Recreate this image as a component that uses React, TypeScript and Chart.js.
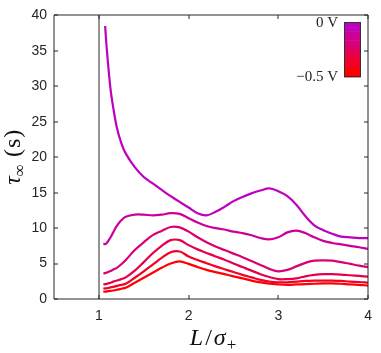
import React, { useEffect, useRef } from "react";
import { Chart, registerables } from "chart.js";

Chart.register(...registerables);

const lengthRatio = [1.05, 1.07, 1.08, 1.1, 1.13, 1.16, 1.2, 1.25, 1.3, 1.4, 1.5, 1.6, 1.7, 1.8, 1.9, 2.0, 2.1, 2.2, 2.3, 2.4, 2.5, 2.6, 2.7, 2.8, 2.9, 3.0, 3.1, 3.2, 3.3, 3.4, 3.5, 3.6, 3.7, 3.8, 3.9, 4.0];
const tau0V = [null, 38.5, 36.6, 33.5, 29.6, 27.0, 24.2, 22.0, 20.5, 18.6, 17.2, 16.3, 15.4, 14.5, 13.7, 12.9, 12.1, 11.8, 12.3, 13.0, 13.8, 14.4, 14.9, 15.3, 15.6, 15.2, 14.5, 13.3, 11.7, 10.4, 9.7, 9.2, 8.8, 8.7, 8.6, 8.6];
const tauM01 = [7.8, 7.75, 7.8, 8.1, 8.7, 9.4, 10.3, 11.1, 11.6, 11.9, 11.9, 11.8, 11.9, 12.1, 12.0, 11.4, 10.8, 10.3, 10.0, 9.8, 9.5, 9.3, 9.0, 8.6, 8.4, 8.7, 9.4, 9.65, 9.3, 8.7, 8.2, 7.9, 7.7, 7.5, 7.3, 7.05];
const tauM02 = [3.6, 3.65, 3.7, 3.8, 3.95, 4.15, 4.4, 4.9, 5.5, 6.9, 8.0, 9.0, 9.6, 10.15, 10.1, 9.5, 8.7, 8.0, 7.4, 6.9, 6.4, 5.9, 5.35, 4.8, 4.25, 3.9, 4.1, 4.6, 5.1, 5.4, 5.45, 5.4, 5.2, 4.95, 4.7, 4.5];
const tauM03 = [2.05, 2.1, 2.1, 2.2, 2.3, 2.45, 2.6, 2.8, 3.05, 4.0, 5.2, 6.45, 7.5, 8.3, 8.3, 7.6, 7.0, 6.5, 6.0, 5.55, 5.0, 4.5, 4.0, 3.5, 3.1, 2.8, 2.8, 2.9, 3.2, 3.4, 3.5, 3.5, 3.45, 3.35, 3.25, 3.15];
const tauM04 = [1.45, 1.5, 1.5, 1.55, 1.65, 1.7, 1.85, 2.0, 2.15, 3.0, 3.9, 4.85, 5.8, 6.6, 6.7, 6.0, 5.5, 5.05, 4.6, 4.2, 3.8, 3.4, 3.05, 2.7, 2.45, 2.35, 2.35, 2.45, 2.55, 2.6, 2.6, 2.6, 2.55, 2.45, 2.4, 2.3];
const tauM05 = [1.0, 1.05, 1.05, 1.1, 1.15, 1.2, 1.3, 1.45, 1.6, 2.3, 3.0, 3.7, 4.4, 5.0, 5.3, 4.95, 4.5, 4.1, 3.8, 3.5, 3.2, 2.9, 2.6, 2.35, 2.15, 2.05, 2.0, 2.05, 2.1, 2.15, 2.2, 2.2, 2.15, 2.05, 2.0, 1.9];

const seriesValues = [tau0V, tauM01, tauM02, tauM03, tauM04, tauM05];
const seriesVoltages = ["0 V", "−0.1 V", "−0.2 V", "−0.3 V", "−0.4 V", "−0.5 V"];
const seriesColors = ["#bf00bf", "#cc0099", "#d90073", "#e6004c", "#f20026", "#ff0000"];
const xTicks = [1, 2, 3, 4];
const yTicks = [0, 5, 10, 15, 20, 25, 30, 35, 40];
const colorbarLabels = ["0 V", "−0.5 V"];
const wallPosition = 1;

const AXIS_COLOR = "#262626";

const decorPlugin = {
  id: "decor",
  beforeDatasetsDraw(chart: any) {
    const { ctx, chartArea: a, scales } = chart;
    const xs = scales.x;
    ctx.save();
    ctx.strokeStyle = AXIS_COLOR;
    ctx.lineWidth = 1;
    const wx = Math.round(xs.getPixelForValue(wallPosition));
    ctx.beginPath();
    ctx.moveTo(wx, a.top);
    ctx.lineTo(wx, a.bottom);
    ctx.stroke();
    ctx.restore();
  },
  afterDraw(chart: any) {
    const { ctx, chartArea: a, scales } = chart;
    const xs = scales.x;
    const ys = scales.y;
    ctx.save();
    ctx.strokeStyle = AXIS_COLOR;
    ctx.lineWidth = 1;
    const L = Math.round(a.left), R = Math.round(a.right), T = Math.round(a.top), B = Math.round(a.bottom);
    ctx.beginPath();
    ctx.moveTo(L, T); ctx.lineTo(R, T); ctx.lineTo(R, B); ctx.lineTo(L, B); ctx.closePath();
    ctx.stroke();
    const tl = 4;
    ctx.beginPath();
    xTicks.forEach((v) => {
      const px = Math.round(xs.getPixelForValue(v));
      ctx.moveTo(px, B); ctx.lineTo(px, B - tl);
      ctx.moveTo(px, T); ctx.lineTo(px, T + tl);
    });
    yTicks.forEach((v) => {
      const py = Math.round(ys.getPixelForValue(v));
      ctx.moveTo(L, py); ctx.lineTo(L + tl, py);
      ctx.moveTo(R, py); ctx.lineTo(R - tl, py);
    });
    ctx.stroke();

    // colorbar
    const cbL = 344, cbR = 361, cbT = 22, cbB = 77;
    const n = seriesColors.length;
    const h = (cbB - cbT) / n;
    seriesColors.forEach((c, i) => {
      ctx.fillStyle = c;
      ctx.fillRect(cbL, cbT + i * h, cbR - cbL, h + 0.5);
    });
    ctx.strokeStyle = "#333";
    ctx.strokeRect(cbL + 0.5, cbT + 0.5, cbR - cbL - 1, cbB - cbT - 1);
    ctx.fillStyle = "#222";
    ctx.font = "15px 'Liberation Serif'";
    ctx.textAlign = "right";
    ctx.textBaseline = "middle";
    ctx.fillText(colorbarLabels[0], 338, cbT + 1);
    ctx.fillText(colorbarLabels[1], 338, cbB);

    // x title: L/σ+
    const fs = 24;
    ctx.fillStyle = "#111";
    ctx.textAlign = "left";
    ctx.textBaseline = "alphabetic";
    const itF = `italic ${fs}px 'Liberation Serif'`;
    const upF = `${fs}px 'Liberation Serif'`;
    const subF = `${Math.round(fs * 0.7)}px 'Liberation Serif'`;
    const partsX = [
      { t: "L", f: itF, dy: 0, gap: 2 },
      { t: "/", f: upF, dy: 0, gap: 2 },
      { t: "σ", f: itF, dy: 0, gap: 1 },
      { t: "+", f: subF, dy: 5, gap: 0 },
    ];
    let total = 0;
    partsX.forEach((p) => { ctx.font = p.f; total += ctx.measureText(p.t).width + p.gap; });
    let cx = (a.left + a.right) / 2 + 2 - total / 2;
    const baseY = 345;
    partsX.forEach((p) => {
      ctx.font = p.f;
      ctx.fillText(p.t, cx, baseY + p.dy);
      cx += ctx.measureText(p.t).width + p.gap;
    });

    // y title: τ∞ (s)
    const partsY = [
      { t: "τ", f: itF, dy: 0, gap: 0 },
      { t: "∞", f: subF, dy: 5, gap: 7 },
      { t: "(", f: upF, dy: 0, gap: 1 },
      { t: "s", f: upF, dy: 0, gap: 1 },
      { t: ")", f: upF, dy: 0, gap: 0 },
    ];
    total = 0;
    partsY.forEach((p) => { ctx.font = p.f; total += ctx.measureText(p.t).width + p.gap; });
    ctx.translate(20, (a.top + a.bottom) / 2);
    ctx.rotate(-Math.PI / 2);
    let cy = -total / 2;
    partsY.forEach((p) => {
      ctx.font = p.f;
      ctx.fillText(p.t, cy, p.dy);
      cy += ctx.measureText(p.t).width + p.gap;
    });
    ctx.restore();
  },
};

export default function App() {
  const ref = useRef<HTMLCanvasElement>(null);
  useEffect(() => {
    if (!ref.current) return;
    const datasets = seriesValues.map((vals, i) => ({
      label: seriesVoltages[i],
      data: lengthRatio.map((x, j) => ({ x, y: vals[j] })),
      borderColor: seriesColors[i],
      backgroundColor: seriesColors[i],
      borderWidth: 2.2,
      pointRadius: 0,
      tension: 0.35,
      spanGaps: false,
      fill: false,
    }));
    const chart = new Chart(ref.current, {
      type: "line",
      data: { datasets },
      options: {
        animation: false,
        responsive: false,
        maintainAspectRatio: false,
        layout: { padding: { left: 0, top: 6, right: 6, bottom: 0 } },
        plugins: { legend: { display: false }, tooltip: { enabled: false } },
        scales: {
          x: {
            type: "linear",
            min: 0.5,
            max: 4,
            grid: { display: false, drawTicks: false },
            border: { display: false },
            afterBuildTicks: (s: any) => { s.ticks = xTicks.map((v) => ({ value: v })); },
            afterFit: (s: any) => { s.height = 54; },
            ticks: {
              padding: 9,
              color: "#262626",
              font: { family: "'Liberation Sans', Arial, sans-serif", size: 14 },
              maxRotation: 0,
              callback: (v: any) => String(v),
            },
          },
          y: {
            type: "linear",
            min: 0,
            max: 40,
            grid: { display: false, drawTicks: false },
            border: { display: false },
            afterBuildTicks: (s: any) => { s.ticks = yTicks.map((v) => ({ value: v })); },
            afterFit: (s: any) => { s.width = 54; },
            ticks: {
              padding: 7,
              color: "#262626",
              font: { family: "'Liberation Sans', Arial, sans-serif", size: 14 },
              callback: (v: any) => String(v),
            },
          },
        },
      },
      plugins: [decorPlugin],
    });
    return () => chart.destroy();
  }, []);
  return (
    <div style={{ position: "absolute", left: 0, top: 0, width: 381, height: 353, background: "#fff" }}>
      <canvas ref={ref} width={381} height={353} style={{ display: "block" }} />
    </div>
  );
}
